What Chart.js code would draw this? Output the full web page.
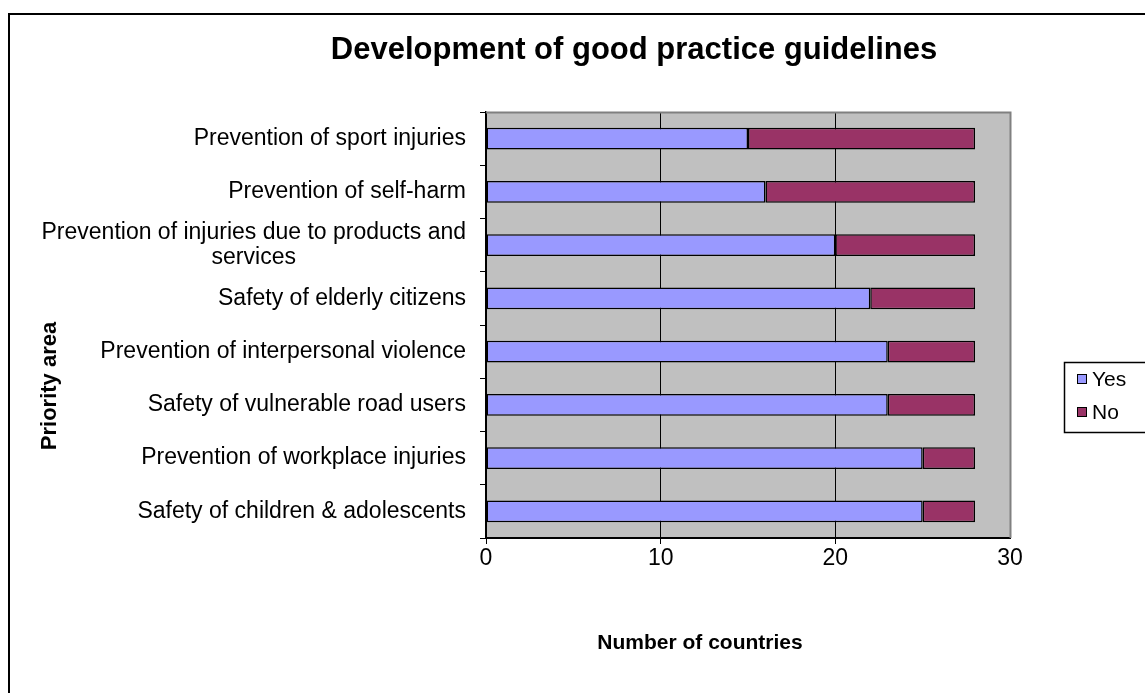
<!DOCTYPE html>
<html><head><meta charset="utf-8">
<script src="https://cdn.jsdelivr.net/npm/chart.js@4"></script>
<style>html,body{margin:0;padding:0;background:#fff;}canvas{display:block;}</style>
</head><body>
<canvas id="c" width="1145" height="693"></canvas>
<script>
const categories = [
  "Prevention of sport injuries",
  "Prevention of self-harm",
  ["Prevention of injuries due to products and", "services"],
  "Safety of elderly citizens",
  "Prevention of interpersonal violence",
  "Safety of vulnerable road users",
  "Prevention of workplace injuries",
  "Safety of children & adolescents"
];
const yesValues = [15, 16, 20, 22, 23, 23, 25, 25];
const noValues  = [13, 12, 8, 6, 5, 5, 3, 3];
const seriesNames = ["Yes", "No"];
const chartTitle = "Development of good practice guidelines";
const xTitle = "Number of countries";
const yTitle = "Priority area";

const FONT = "'Liberation Sans', Arial, sans-serif";

const decor = {
  id: 'decor',
  beforeDraw(chart) {
    const {ctx, chartArea: a} = chart;
    ctx.save();
    ctx.fillStyle = '#C0C0C0';
    ctx.fillRect(a.left, a.top, a.right - a.left, a.bottom - a.top);
    ctx.restore();
  },
  afterDatasetsDraw(chart) {
    const {ctx, chartArea: a} = chart;
    ctx.save();
    ctx.strokeStyle = '#808080';
    ctx.lineWidth = 2;
    ctx.beginPath();
    ctx.moveTo(a.left, a.top + 0.5);
    ctx.lineTo(a.right + 0.5, a.top + 0.5);
    ctx.lineTo(a.right + 0.5, a.bottom);
    ctx.stroke();
    ctx.restore();
  },
  afterDraw(chart) {
    const {ctx} = chart;
    ctx.save();
    // outer frame
    ctx.strokeStyle = '#000';
    ctx.lineWidth = 2;
    ctx.strokeRect(9, 14, 1300, 900);
    ctx.fillStyle = '#000';
    ctx.textBaseline = 'middle';
    // y category labels (multi-line labels centred line by line)
    const ys = chart.scales.y;
    ctx.font = "23px " + FONT;
    chart.data.labels.forEach((lab, i) => {
      const lines = Array.isArray(lab) ? lab : [lab];
      const cy = ys.getPixelForValue(i);
      const lh = 25;
      const maxW = Math.max(...lines.map(l => ctx.measureText(l).width));
      lines.forEach((l, k) => {
        const y = cy - (lines.length - 1) * lh / 2 + k * lh;
        if (lines.length > 1) {
          ctx.textAlign = 'center';
          ctx.fillText(l, 466 - maxW / 2, y);
        } else {
          ctx.textAlign = 'right';
          ctx.fillText(l, 466, y);
        }
      });
    });
    // title
    ctx.textAlign = 'center';
    ctx.font = "bold 31px " + FONT;
    ctx.fillText(chartTitle, 634, 50);
    // x title
    ctx.font = "bold 21px " + FONT;
    ctx.fillText(xTitle, 700, 643);
    // y title
    ctx.font = "bold 22px " + FONT;
    ctx.save();
    ctx.translate(50, 386);
    ctx.rotate(-Math.PI / 2);
    ctx.fillText(yTitle, 0, 0);
    ctx.restore();
    // legend
    ctx.lineWidth = 1.5;
    ctx.strokeRect(1064.5, 362.5, 200, 70);
    const ds = chart.data.datasets;
    const ly = [379, 412];
    ds.forEach((d, i) => {
      ctx.fillStyle = d.backgroundColor;
      ctx.fillRect(1077, ly[i] - 5, 10, 10);
      ctx.strokeStyle = '#000';
      ctx.lineWidth = 1;
      ctx.strokeRect(1077.5, ly[i] - 4.5, 9, 9);
      ctx.fillStyle = '#000';
      ctx.textAlign = 'left';
      ctx.font = "21px " + FONT;
      ctx.fillText(d.label, 1092, ly[i] + 1);
    });
    ctx.restore();
  }
};

new Chart(document.getElementById('c'), {
  type: 'bar',
  data: {
    labels: categories,
    datasets: [
      { label: seriesNames[0], data: yesValues, backgroundColor: '#9999FF', borderColor: '#000', borderWidth: 1.5, borderSkipped: false, barPercentage: 0.41, categoryPercentage: 1 },
      { label: seriesNames[1], data: noValues, backgroundColor: '#993366', borderColor: '#000', borderWidth: 1.5, borderSkipped: false, barPercentage: 0.41, categoryPercentage: 1 }
    ]
  },
  options: {
    indexAxis: 'y',
    responsive: false,
    animation: false,
    devicePixelRatio: 1,
    layout: { padding: { top: 112, right: 135, left: 0, bottom: 0 } },
    plugins: { legend: { display: false }, title: { display: false }, tooltip: { enabled: false } },
    scales: {
      x: {
        stacked: true, min: 0, max: 30,
        ticks: { stepSize: 10, color: '#000', font: { family: FONT, size: 23 }, padding: 1, maxRotation: 0 },
        grid: { color: (c) => (c.tick && c.tick.value === 30) ? 'rgba(0,0,0,0)' : '#000', lineWidth: 1, tickLength: 6, drawOnChartArea: true },
        border: { color: '#000', width: 2 },
        afterFit(s) { s.height = 155; }
      },
      y: {
        stacked: true,
        ticks: { color: 'rgba(0,0,0,0)', font: { family: FONT, size: 8 }, padding: 12, autoSkip: false },
        grid: { drawOnChartArea: false, color: '#000', tickLength: 6, offset: true },
        border: { color: '#000', width: 1.5 },
        afterFit(s) { s.width = 486; }
      }
    }
  },
  plugins: [decor]
});
</script>
</body></html>
